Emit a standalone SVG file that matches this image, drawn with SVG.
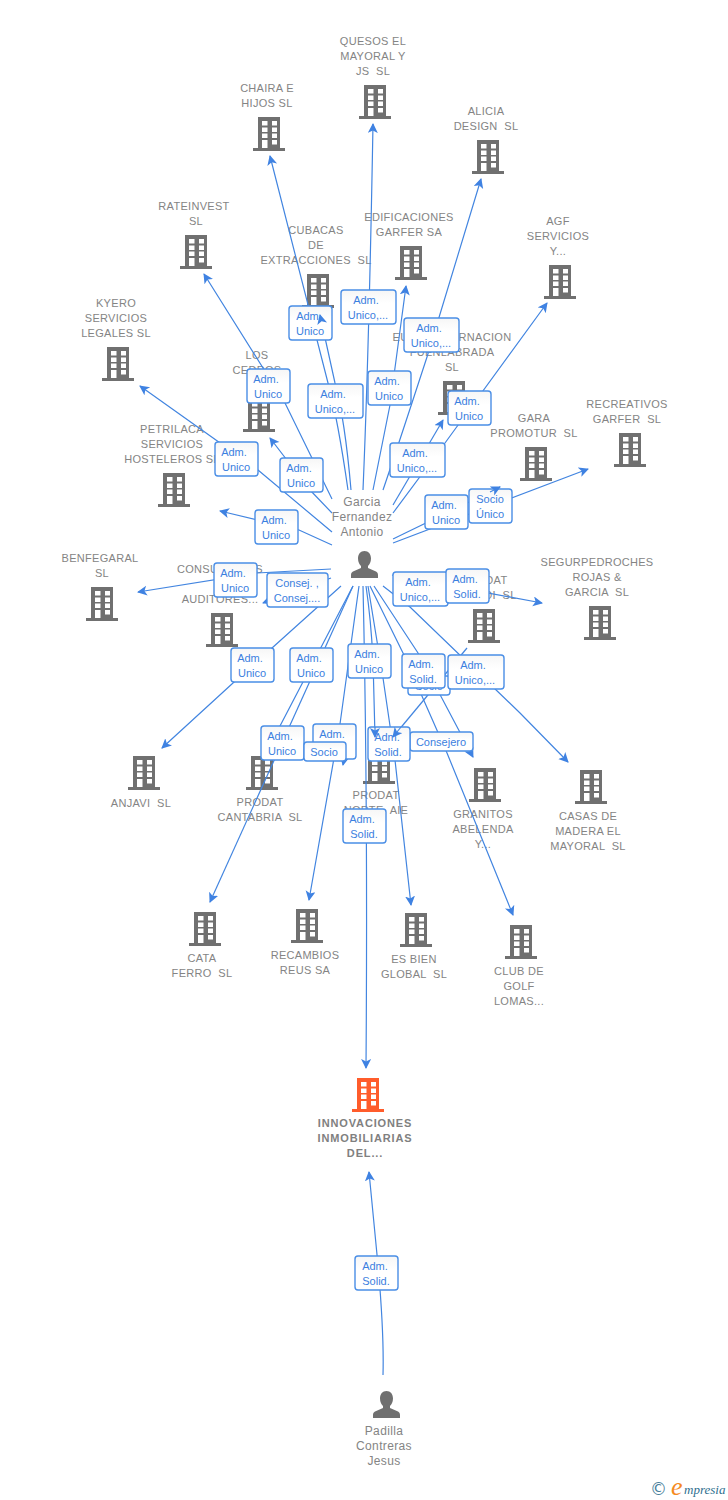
<svg xmlns="http://www.w3.org/2000/svg" width="728" height="1500" viewBox="0 0 728 1500">
<style>
text{font-family:"Liberation Sans",Arial,sans-serif;white-space:pre}
.n{font-size:11px;fill:#848484;text-anchor:middle;letter-spacing:.3px}
.b{font-weight:bold;fill:#808080;letter-spacing:.85px}
.p{font-size:12px;fill:#848484;text-anchor:middle;letter-spacing:.35px}
.c{fill:none;stroke:#4285e0;stroke-width:1.2}
.l rect{fill:url(#g);stroke:#4a8ee6;stroke-width:1.4}
.l text{font-size:11px;fill:#3b80e0;text-anchor:middle}
</style>
<defs>
<linearGradient id="g" x1="0" y1="0" x2="0" y2="1"><stop offset="0" stop-color="#f6f6f6"/><stop offset=".4" stop-color="#fff"/></linearGradient>
<marker id="a" markerWidth="12" markerHeight="12" refX="9" refY="5" orient="auto" markerUnits="userSpaceOnUse"><path d="M0 0L10 5L0 10L2.500 5Z" fill="#3f82e2"/></marker>
<path id="bp" fill-rule="evenodd" d="M5 0H27V31H32V34H0V31H5ZM9 4V8.500H14.500V4ZM19 4V8.500H24V4ZM9 10.500V15H14.500V10.500ZM19 10.500V15H24V10.500ZM9 16.500V21H14.500V16.500ZM19 16.500V21H24V16.500ZM9 23V31H14.500V23ZM19 23V27.500H24V23Z"/>
<path id="pp" d="M13.500 0C9.500 0 7 3 7 7.500C7 11 8.500 13.500 10 15V17L2 20.500C.5 21.200 0 22.500 0 24V27H27V24C27 22.500 26.500 21.200 25 20.500L17 17V15C18.500 13.500 20 11 20 7.500C20 3 17.500 0 13.500 0Z"/>
</defs>
<g id="nodes">
<g id="n1" fill="#707070"><use href="#bp" x="359" y="85"/><text class="n" x="373" y="45">QUESOS EL</text><text class="n" x="373" y="60">MAYORAL Y</text><text class="n" x="373" y="75">JS  SL</text></g>
<g id="n2" fill="#707070"><use href="#bp" x="253" y="117"/><text class="n" x="267" y="92">CHAIRA E</text><text class="n" x="267" y="107">HIJOS SL</text></g>
<g id="n3" fill="#707070"><use href="#bp" x="472" y="140"/><text class="n" x="486" y="115">ALICIA</text><text class="n" x="486" y="130">DESIGN  SL</text></g>
<g id="n4" fill="#707070"><use href="#bp" x="180" y="235"/><text class="n" x="194" y="210">RATEINVEST</text><text class="n" x="196" y="225">SL</text></g>
<g id="n5" fill="#707070"><use href="#bp" x="395" y="246"/><text class="n" x="409" y="221">EDIFICACIONES</text><text class="n" x="409" y="236">GARFER SA</text></g>
<g id="n6" fill="#707070"><use href="#bp" x="302" y="274"/><text class="n" x="316" y="234">CUBACAS</text><text class="n" x="316" y="249">DE</text><text class="n" x="316" y="264">EXTRACCIONES  SL</text></g>
<g id="n7" fill="#707070"><use href="#bp" x="544" y="265"/><text class="n" x="558" y="225">AGF</text><text class="n" x="558" y="240">SERVICIOS</text><text class="n" x="558" y="255">Y...</text></g>
<g id="n8" fill="#707070"><use href="#bp" x="102" y="347"/><text class="n" x="116" y="307">KYERO</text><text class="n" x="116" y="322">SERVICIOS</text><text class="n" x="116" y="337">LEGALES SL</text></g>
<g id="n9" fill="#707070"><use href="#bp" x="243" y="398"/><text class="n" x="257" y="359">LOS</text><text class="n" x="257" y="374">CEDROS</text><text class="n" x="257" y="389">D...</text></g>
<g id="n10" fill="#707070"><use href="#bp" x="438" y="381"/><text class="n" x="452" y="341">EUROGOBERNACION</text><text class="n" x="452" y="356">FUENLABRADA</text><text class="n" x="452" y="371">SL</text></g>
<g id="n11" fill="#707070"><use href="#bp" x="158" y="473"/><text class="n" x="172" y="433">PETRILACA</text><text class="n" x="172" y="448">SERVICIOS</text><text class="n" x="172" y="463">HOSTELEROS SL</text></g>
<g id="n12" fill="#707070"><use href="#bp" x="520" y="447"/><text class="n" x="534" y="422">GARA</text><text class="n" x="534" y="437">PROMOTUR  SL</text></g>
<g id="n13" fill="#707070"><use href="#bp" x="614" y="433"/><text class="n" x="627" y="408">RECREATIVOS</text><text class="n" x="627" y="423">GARFER  SL</text></g>
<g id="n14" fill="#707070"><use href="#bp" x="86" y="587"/><text class="n" x="100" y="562">BENFEGARAL</text><text class="n" x="102" y="577">SL</text></g>
<g id="n15" fill="#707070"><use href="#bp" x="206" y="613"/><text class="n" x="220" y="573">CONSULTORES</text><text class="n" x="220" y="588">Y</text><text class="n" x="220" y="603">AUDITORES...</text></g>
<g id="n16" fill="#707070"><use href="#bp" x="584" y="606"/><text class="n" x="597" y="566">SEGURPEDROCHES</text><text class="n" x="597" y="581">ROJAS &amp;</text><text class="n" x="597" y="596">GARCIA  SL</text></g>
<g id="n17" fill="#707070"><use href="#bp" x="468" y="609"/><text class="n" x="484" y="584">PRODAT</text><text class="n" x="484" y="599">MAHADI  SL</text></g>
<g id="n18" fill="#707070"><use href="#bp" x="128" y="756"/><text class="n" x="141" y="807">ANJAVI  SL</text></g>
<g id="n19" fill="#707070"><use href="#bp" x="246" y="756"/><text class="n" x="260" y="806">PRODAT</text><text class="n" x="260" y="821">CANTABRIA  SL</text></g>
<g id="n20" fill="#707070"><use href="#bp" x="363" y="750"/><text class="n" x="376" y="799">PRODAT</text><text class="n" x="376" y="814">NORTE  AIE</text></g>
<g id="n21" fill="#707070"><use href="#bp" x="469" y="768"/><text class="n" x="483" y="818">GRANITOS</text><text class="n" x="483" y="833">ABELENDA</text><text class="n" x="483" y="848">Y...</text></g>
<g id="n22" fill="#707070"><use href="#bp" x="575" y="770"/><text class="n" x="588" y="820">CASAS DE</text><text class="n" x="588" y="835">MADERA EL</text><text class="n" x="588" y="850">MAYORAL  SL</text></g>
<g id="n23" fill="#707070"><use href="#bp" x="189" y="912"/><text class="n" x="202" y="962">CATA</text><text class="n" x="202" y="977">FERRO  SL</text></g>
<g id="n24" fill="#707070"><use href="#bp" x="291" y="909"/><text class="n" x="305" y="959">RECAMBIOS</text><text class="n" x="305" y="974">REUS SA</text></g>
<g id="n25" fill="#707070"><use href="#bp" x="400" y="913"/><text class="n" x="414" y="963">ES BIEN</text><text class="n" x="414" y="978">GLOBAL  SL</text></g>
<g id="n26" fill="#707070"><use href="#bp" x="505" y="925"/><text class="n" x="519" y="975">CLUB DE</text><text class="n" x="519" y="990">GOLF</text><text class="n" x="519" y="1005">LOMAS...</text></g>
<g id="n27" fill="#ff5c2b"><use href="#bp" x="352" y="1078"/><text class="n b" x="365" y="1127">INNOVACIONES</text><text class="n b" x="365" y="1142">INMOBILIARIAS</text><text class="n b" x="365" y="1157">DEL...</text></g>
<g id="p1" fill="#707070"><use href="#pp" x="351" y="551"/><text class="p" x="362" y="506">Garcia</text><text class="p" x="362" y="521">Fernandez</text><text class="p" x="362" y="536">Antonio</text></g>
<g id="p2" fill="#707070"><use href="#pp" x="373" y="1391"/><text class="p" x="384" y="1435">Padilla</text><text class="p" x="384" y="1450">Contreras</text><text class="p" x="384" y="1465">Jesus</text></g>
</g>
<g id="connectors" class="c">
<path marker-end="url(#a)" d="M363 490Q369 350 373 124"/>
<path marker-end="url(#a)" d="M348 490Q338 420 328 383L270 156"/>
<path d="M351 490Q345 420 335 383L320 315"/>
<path marker-end="url(#a)" d="M383 490Q395 455 427 357L481 179"/>
<path marker-end="url(#a)" d="M373 490L390 405L406 286"/>
<path marker-end="url(#a)" d="M393 513L445 443L547 303"/>
<path marker-end="url(#a)" d="M393 505L443 420"/>
<path d="M393 539L500 487"/>
<path marker-end="url(#a)" d="M393 543L588 469"/>
<path marker-end="url(#a)" d="M332 499L285 403L204 274"/>
<path marker-end="url(#a)" d="M332 513L310 490L270 438"/>
<path marker-end="url(#a)" d="M332 532L258 470L140 386"/>
<path marker-end="url(#a)" d="M332 545L299 530L220 511"/>
<path marker-end="url(#a)" d="M331 569L257 573L138 592"/>
<path marker-end="url(#a)" d="M331 578L263 603"/>
<path marker-end="url(#a)" d="M341 586L272 648L233 683L162 748"/>
<path marker-end="url(#a)" d="M353 586L210 902"/>
<path d="M353 586L280 726L268 752"/>
<path marker-end="url(#a)" d="M359 586L340 724L309 900"/>
<path d="M366 586Q371 620 373 660L375 737"/>
<path marker-end="url(#a)" d="M363 586Q368 800 366 1068"/>
<path marker-end="url(#a)" d="M368 586L383 678L395 760L411 905"/>
<path marker-end="url(#a)" d="M370 586L403 653L447 753L513 915"/>
<path marker-end="url(#a)" d="M374 586L418 653L473 757"/>
<path marker-end="url(#a)" d="M383 586L410 607L520 713L568 762"/>
<path marker-end="url(#a)" d="M392 575L542 603"/>
<path d="M467 648L393 737"/>
<path marker-end="url(#a)" d="M345 755L343 765"/>
<path marker-end="url(#a)" d="M383 1375C384 1340 382 1310 378 1265L369 1172"/>
</g>
<g id="labels" class="l">
<g><rect x="289" y="306" width="43" height="34" rx="3"/><text x="309" y="320">Adm.</text><text x="310" y="335">Unico</text></g>
<g><rect x="341" y="290" width="55" height="34" rx="3"/><text x="366" y="304">Adm.</text><text x="368" y="319">Unico,...</text></g>
<g><rect x="404" y="318" width="55" height="34" rx="3"/><text x="429" y="332">Adm.</text><text x="431" y="347">Unico,...</text></g>
<g><rect x="247" y="369" width="43" height="34" rx="3"/><text x="266" y="383">Adm.</text><text x="268" y="398">Unico</text></g>
<g><rect x="308" y="384" width="55" height="34" rx="3"/><text x="333" y="398">Adm.</text><text x="335" y="413">Unico,...</text></g>
<g><rect x="368" y="371" width="43" height="34" rx="3"/><text x="387" y="385">Adm.</text><text x="389" y="400">Unico</text></g>
<g><rect x="448" y="391" width="43" height="34" rx="3"/><text x="467" y="405">Adm.</text><text x="469" y="420">Unico</text></g>
<g><rect x="215" y="442" width="43" height="34" rx="3"/><text x="234" y="456">Adm.</text><text x="236" y="471">Unico</text></g>
<g><rect x="280" y="458" width="43" height="34" rx="3"/><text x="299" y="472">Adm.</text><text x="301" y="487">Unico</text></g>
<g><rect x="390" y="443" width="55" height="34" rx="3"/><text x="415" y="457">Adm.</text><text x="417" y="472">Unico,...</text></g>
<g><rect x="255" y="510" width="43" height="34" rx="3"/><text x="274" y="524">Adm.</text><text x="276" y="539">Unico</text></g>
<g><rect x="425" y="495" width="43" height="34" rx="3"/><text x="444" y="509">Adm.</text><text x="446" y="524">Unico</text></g>
<g><rect x="469" y="489" width="43" height="34" rx="3"/><text x="490" y="503">Socio</text><text x="490" y="518">Único</text></g>
<g><rect x="214" y="563" width="43" height="34" rx="3"/><text x="233" y="577">Adm.</text><text x="235" y="592">Unico</text></g>
<g><rect x="267" y="573" width="61" height="34" rx="3"/><text x="297" y="587">Consej. ,</text><text x="297" y="602">Consej....</text></g>
<g><rect x="393" y="572" width="55" height="34" rx="3"/><text x="418" y="586">Adm.</text><text x="420" y="601">Unico,...</text></g>
<g><rect x="446" y="569" width="43" height="34" rx="3"/><text x="465" y="583">Adm.</text><text x="467" y="598">Solid.</text></g>
<g><rect x="231" y="648" width="43" height="34" rx="3"/><text x="250" y="662">Adm.</text><text x="252" y="677">Unico</text></g>
<g><rect x="290" y="648" width="43" height="34" rx="3"/><text x="309" y="662">Adm.</text><text x="311" y="677">Unico</text></g>
<g><rect x="348" y="644" width="43" height="34" rx="3"/><text x="367" y="658">Adm.</text><text x="369" y="673">Unico</text></g>
<g><rect x="408" y="676" width="42" height="19" rx="3"/><text x="429" y="690">Socio</text></g>
<g><rect x="448" y="655" width="56" height="34" rx="3"/><text x="473" y="669">Adm.</text><text x="475" y="684">Unico,...</text></g>
<g><rect x="402" y="654" width="43" height="34" rx="3"/><text x="421" y="668">Adm.</text><text x="423" y="683">Solid.</text></g>
<g><rect x="313" y="724" width="43" height="35" rx="3"/><text x="332" y="738">Adm.</text></g>
<g><rect x="261" y="726" width="43" height="34" rx="3"/><text x="280" y="740">Adm.</text><text x="282" y="755">Unico</text></g>
<g><rect x="304" y="742" width="42" height="19" rx="3"/><text x="324" y="756">Socio</text></g>
<g><rect x="410" y="732" width="63" height="19" rx="3"/><text x="441" y="746">Consejero</text></g>
<g><rect x="368" y="727" width="42" height="34" rx="3"/><text x="387" y="741">Adm.</text><text x="388" y="756">Solid.</text></g>
<g><rect x="343" y="809" width="43" height="34" rx="3"/><text x="362" y="823">Adm.</text><text x="364" y="838">Solid.</text></g>
<g><rect x="355" y="1256" width="43" height="34" rx="3"/><text x="375" y="1270">Adm.</text><text x="376" y="1285">Solid.</text></g>
</g>
<g id="arrowheads" class="c">
<path marker-end="url(#a)" d="M321 319L320 315"/>
<path marker-end="url(#a)" d="M490 492L500 487"/>
<path marker-end="url(#a)" d="M375 727L375 737"/>
<path marker-end="url(#a)" d="M401 727L393 737"/>
</g>
<g id="logo">
<text x="650" y="1495" font-size="17" fill="#4a7f9c" style="font-family:'DejaVu Sans',sans-serif">©</text>
<text x="671" y="1495" font-size="26" font-style="italic" fill="#f58a1f" style="font-family:'Liberation Serif',serif">e</text>
<text x="684" y="1494" font-size="13" font-style="italic" fill="#2f6f8f" style="font-family:'Liberation Serif',serif">mpresia</text>
</g>
</svg>
